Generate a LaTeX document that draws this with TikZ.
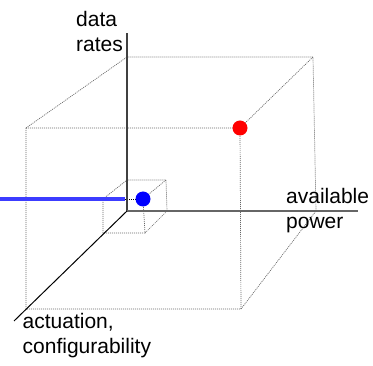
\documentclass[tikz,border=0pt]{standalone}
\usepackage{fontspec}
\setmainfont{Liberation Sans}
\begin{document}
\begin{tikzpicture}[x=1pt,y=-1pt,
  edge/.style={draw=gray!80!black, line width=0.7pt, dash pattern=on 1pt off 1pt},
  axis/.style={line width=1.6pt},
  lbl/.style={font=\fontsize{21}{25.2}\selectfont, inner sep=0pt, align=left},
  dot/.style={circle, minimum size=15pt, inner sep=0pt}]
\useasboundingbox (0,0) rectangle (373,366);
% large box corners
\coordinate (O)  at (127,211);
\coordinate (B1) at (127,57);
\coordinate (B2) at (313,57);
\coordinate (B3) at (316,211);
\coordinate (F1) at (26,128);
\coordinate (F2) at (240,128);
\coordinate (F3) at (241,309);
\coordinate (F4) at (26,309);
% small box corners
\coordinate (b1) at (127,180);
\coordinate (b2) at (166,180);
\coordinate (b3) at (167,211);
\coordinate (f1) at (103,199);
\coordinate (f2) at (143,199);
\coordinate (f3) at (145,233);
\coordinate (f4) at (103,233);
% axis ends
\coordinate (Yend) at (127,33);
\coordinate (Xend) at (358,211);
\coordinate (Zend) at (14,321);
\coordinate (Lstart) at (0,199);
\coordinate (Lend) at (125,199);
% large box
\draw[edge] (F1) -- (B1) -- (B2) -- (B3);
\draw[edge] (B2) -- (F2);
\draw[edge] (F1) -- (F2) -- (F3) -- (F4) -- cycle;
\draw[edge] (F3) -- (B3);
% small box
\draw[edge] (f1) -- (b1) -- (b2) -- (b3);
\draw[edge] (b2) -- (f2);
\draw[edge, draw=black] (f1) -- (f2);
\draw[edge] (f2) -- (f3) -- (f4) -- (f1);
\draw[edge] (f3) -- (b3);
% axes
\draw[axis, draw=black!75] (O) -- (Yend);
\draw[axis, draw=black!60] (O) -- (Xend);
\draw[line width=1pt, draw=black] (O) -- (Zend);
% blue bar
\draw[line width=4pt, draw={rgb,255:red,60;green,60;blue,255}] (Lstart) -- (Lend);
% points
\node[dot, fill=blue] (bluept) at (f2) {};
\node[dot, fill=red] (redpt) at (F2) {};
% labels (base anchor sits on the last line)
\node[lbl, anchor=base west] (ylab) at (76,51.5) {data\\rates};
\node[lbl, anchor=base west] (xlab) at (286,229) {available\\power};
\node[lbl, anchor=base west] (zlab) at (22.5,354) {actuation,\\configurability};
\end{tikzpicture}
\end{document}
